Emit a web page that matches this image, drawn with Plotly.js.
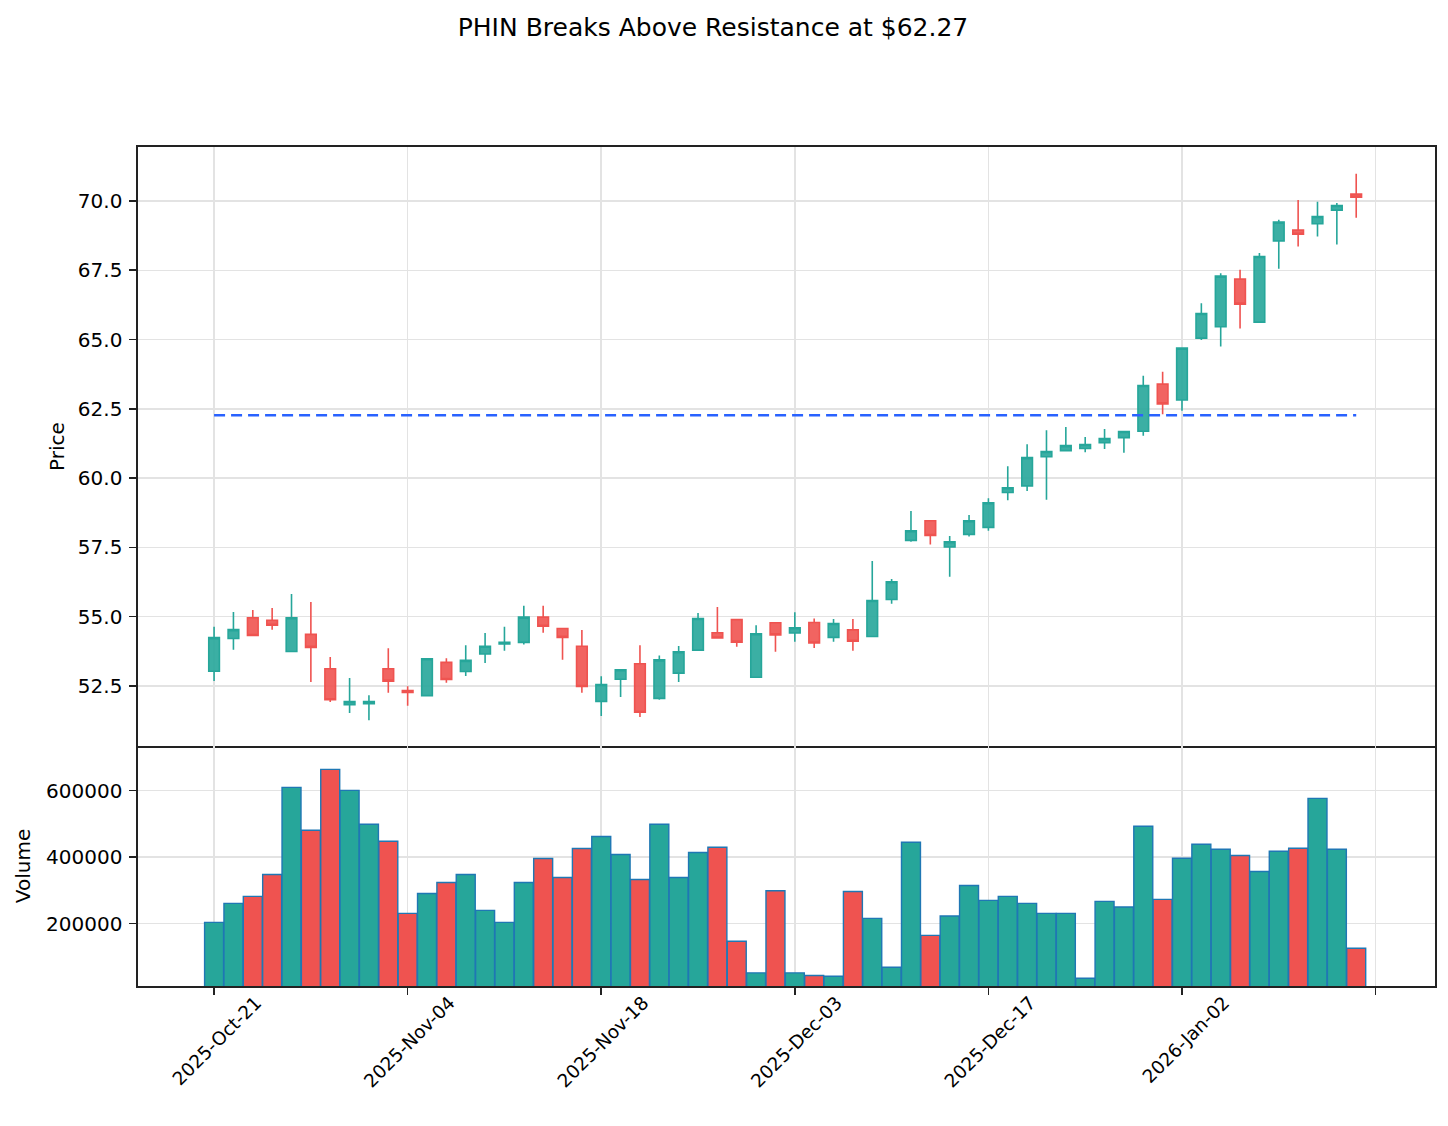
<!DOCTYPE html>
<html>
<head>
<meta charset="utf-8">
<script src="https://cdn.plot.ly/plotly-3.0.1.min.js"></script>
<style>
  html, body { margin: 0; padding: 0; background: #fff; }
  #chart { width: 1448px; height: 1126px; }
</style>
</head>
<body>
<div id="chart"></div>
<script>
// Daily sessions, PHIN
const dates = [
  '2025-10-21','2025-10-22','2025-10-23','2025-10-24','2025-10-27','2025-10-28','2025-10-29','2025-10-30','2025-10-31','2025-11-03',
  '2025-11-04','2025-11-05','2025-11-06','2025-11-07','2025-11-10','2025-11-11','2025-11-12','2025-11-13','2025-11-14','2025-11-17',
  '2025-11-18','2025-11-19','2025-11-20','2025-11-21','2025-11-24','2025-11-25','2025-11-26','2025-11-28','2025-12-01','2025-12-02',
  '2025-12-03','2025-12-04','2025-12-05','2025-12-08','2025-12-09','2025-12-10','2025-12-11','2025-12-12','2025-12-15','2025-12-16',
  '2025-12-17','2025-12-18','2025-12-19','2025-12-22','2025-12-23','2025-12-24','2025-12-26','2025-12-29','2025-12-30','2025-12-31',
  '2026-01-02','2026-01-05','2026-01-06','2026-01-07','2026-01-08','2026-01-09','2026-01-12','2026-01-13','2026-01-14','2026-01-15'
];

const open = [
  53.03, 54.21, 54.96, 54.87, 53.74, 54.36, 53.12, 51.82, 51.86, 53.12,
  52.33, 52.15, 53.35, 53.02, 53.65, 54.01, 54.07, 54.98, 54.57, 53.93,
  51.94, 52.74, 53.30, 52.05, 52.96, 53.79, 54.42, 54.89, 52.81, 54.78,
  54.41, 54.79, 54.25, 54.52, 54.28, 55.62, 57.75, 58.46, 57.51, 57.97,
  58.22, 59.48, 59.72, 60.77, 60.99, 61.07, 61.28, 61.46, 61.69, 63.39,
  62.82, 65.05, 65.46, 67.18, 65.63, 68.56, 68.95, 69.18, 69.67, 70.25
];
const high = [
  54.63, 55.17, 55.24, 55.31, 55.82, 55.53, 53.54, 52.78, 52.16, 53.86,
  52.49, 53.48, 53.50, 53.97, 54.41, 54.63, 55.39, 55.39, 54.57, 54.52,
  52.85, 53.08, 53.97, 53.60, 53.94, 55.13, 55.35, 54.89, 54.69, 54.78,
  55.16, 54.93, 54.91, 54.91, 57.01, 56.36, 58.81, 58.46, 57.91, 58.67,
  59.27, 60.43, 61.22, 61.73, 61.84, 61.48, 61.77, 61.68, 63.69, 63.84,
  64.69, 66.31, 67.39, 67.52, 68.12, 69.32, 70.04, 69.97, 69.93, 70.98
];
const low = [
  52.68, 53.80, 54.30, 54.53, 53.72, 52.64, 51.92, 51.52, 51.26, 52.25,
  51.78, 52.15, 52.61, 52.86, 53.33, 53.77, 53.99, 54.42, 53.44, 52.25,
  51.41, 52.10, 51.38, 52.00, 52.64, 53.79, 54.23, 53.91, 52.81, 53.73,
  54.09, 53.87, 54.09, 53.77, 54.28, 55.46, 57.70, 57.60, 56.44, 57.89,
  58.10, 59.20, 59.53, 59.22, 60.99, 60.93, 61.05, 60.91, 61.53, 62.30,
  62.43, 64.98, 64.75, 65.40, 65.63, 67.56, 68.36, 68.72, 68.43, 69.40
];
const close = [
  54.24, 54.53, 54.32, 54.69, 54.96, 53.89, 52.00, 51.93, 51.93, 52.67,
  52.26, 53.48, 52.73, 53.42, 53.93, 54.07, 54.98, 54.65, 54.25, 52.48,
  52.55, 53.08, 51.55, 53.44, 53.73, 54.93, 54.23, 54.08, 54.38, 54.34,
  54.60, 54.05, 54.75, 54.11, 55.58, 56.26, 58.10, 57.93, 57.70, 58.46,
  59.11, 59.65, 60.74, 60.96, 61.17, 61.21, 61.43, 61.68, 63.34, 62.68,
  64.69, 65.94, 67.29, 66.28, 68.00, 69.24, 68.80, 69.44, 69.84, 70.14
];
const volume = [
  204000, 261000, 282000, 348000, 610000, 481000, 664000, 601000, 499000, 448000,
  231000, 291000, 324000, 348000, 240000, 204000, 324000, 396000, 339000, 426000,
  462000, 408000, 333000, 499000, 339000, 414000, 430000, 147000,  52000, 299000,
   52000,  44000,  42000, 297000, 216000,  69000, 445000, 165000, 223000, 315000,
  270000, 282000, 261000, 231000, 231000,  36000, 267000, 250000, 493000, 273000,
  397000, 439000, 424000, 405000, 357000, 418000, 427000, 577000, 424000, 126000
];

const resistance = 62.27;
const tickStep = 10;

const UP = '#26a69a';
const DOWN = '#ef5350';
const MONTHS = ['Jan','Feb','Mar','Apr','May','Jun','Jul','Aug','Sep','Oct','Nov','Dec'];

// sessions are plotted by index, so weekends and holidays leave no gaps
const idx = dates.map((_, i) => i);

function fmtDate(iso) {
  const [y, m, d] = iso.split('-');
  return y + '-' + MONTHS[parseInt(m, 10) - 1] + '-' + d;
}

const tickvals = [];
const ticktext = [];
for (let i = 0; i <= dates.length; i += tickStep) {
  tickvals.push(i);
  ticktext.push(i < dates.length ? fmtDate(dates[i]) : '');
}

const volColors = idx.map(i => (close[i] >= open[i] ? UP : DOWN));

const candles = {
  type: 'candlestick',
  x: idx, open: open, high: high, low: low, close: close,
  xaxis: 'x', yaxis: 'y',
  increasing: { line: { color: UP, width: 1.6 }, fillcolor: 'rgba(38,166,154,0.9)' },
  decreasing: { line: { color: DOWN, width: 1.6 }, fillcolor: 'rgba(239,83,80,0.9)' },
  whiskerwidth: 0,
  hoverinfo: 'skip',
  showlegend: false
};

const resLine = {
  type: 'scatter', mode: 'lines',
  x: [idx[0], idx[idx.length - 1]],
  y: [resistance, resistance],
  xaxis: 'x', yaxis: 'y',
  line: { color: '#2962ff', width: 2.5, dash: '11px,6px' },
  hoverinfo: 'skip',
  showlegend: false
};

const volBars = {
  type: 'bar',
  x: idx, y: volume,
  xaxis: 'x2', yaxis: 'y2',
  width: 0.98,
  marker: { color: volColors, line: { color: '#1f77b4', width: 1.4 } },
  hoverinfo: 'skip',
  showlegend: false
};

const FONT = 'DejaVu Sans, sans-serif';
const AX = '#222';
const GRID = '#e3e3e3';
const split = 240 / 839;

const common = {
  showline: true, linecolor: AX, linewidth: 1.6,
  showgrid: true, gridcolor: GRID, gridwidth: 1.5,
  zeroline: false,
  tickfont: { family: FONT, size: 20, color: '#000' }
};

const layout = {
  width: 1448, height: 1126,
  margin: { l: 138, r: 13, t: 147, b: 140 },
  paper_bgcolor: '#fff', plot_bgcolor: '#fff',
  font: { family: FONT, color: '#000' },
  showlegend: false,
  boxgap: 0.45, boxgroupgap: 0,
  bargap: 0,
  title: {
    text: 'PHIN Breaks Above Resistance at $62.27',
    font: { family: FONT, size: 25, color: '#000' },
    xref: 'container', x: 713 / 1448, xanchor: 'center',
    yref: 'container', y: 1 - 27 / 1126, yanchor: 'middle'
  },
  // price panel: its frame also draws the divider above the volume panel
  xaxis: Object.assign({}, common, {
    anchor: 'y', domain: [0, 1], mirror: true,
    range: [-3.93, 63.07],
    tickmode: 'array', tickvals: tickvals, ticktext: ticktext,
    showticklabels: false, ticks: '',
    rangeslider: { visible: false }
  }),
  xaxis2: Object.assign({}, common, {
    anchor: 'y2', domain: [0, 1], matches: 'x', mirror: false,
    range: [-3.93, 63.07],
    tickmode: 'array', tickvals: tickvals, ticktext: ticktext,
    tickangle: -45,
    tickfont: { family: FONT, size: 18.5, color: '#000' },
    ticklabelshift: 42, ticklabelstandoff: -10,
    ticks: 'outside', ticklen: 7, tickwidth: 1.6, tickcolor: AX
  }),
  yaxis: Object.assign({}, common, {
    anchor: 'x', domain: [split, 1], mirror: true,
    range: [50.33, 71.95],
    tick0: 0, dtick: 2.5, tickformat: '.1f',
    ticks: 'outside', ticklen: 7, tickwidth: 1.6, tickcolor: AX,
    ticklabelstandoff: 3,
    title: { text: 'Price', font: { family: FONT, size: 20, color: '#000' }, standoff: 8 }
  }),
  yaxis2: Object.assign({}, common, {
    anchor: 'x2', domain: [0, split], mirror: true,
    range: [12600, 734400],
    tick0: 0, dtick: 200000, tickformat: 'd',
    ticks: 'outside', ticklen: 7, tickwidth: 1.6, tickcolor: AX,
    ticklabelstandoff: 3,
    title: { text: 'Volume', font: { family: FONT, size: 20, color: '#000' }, standoff: 10 }
  })
};

Plotly.newPlot('chart', [volBars, candles, resLine], layout, { displayModeBar: false, staticPlot: true });
</script>
</body>
</html>
